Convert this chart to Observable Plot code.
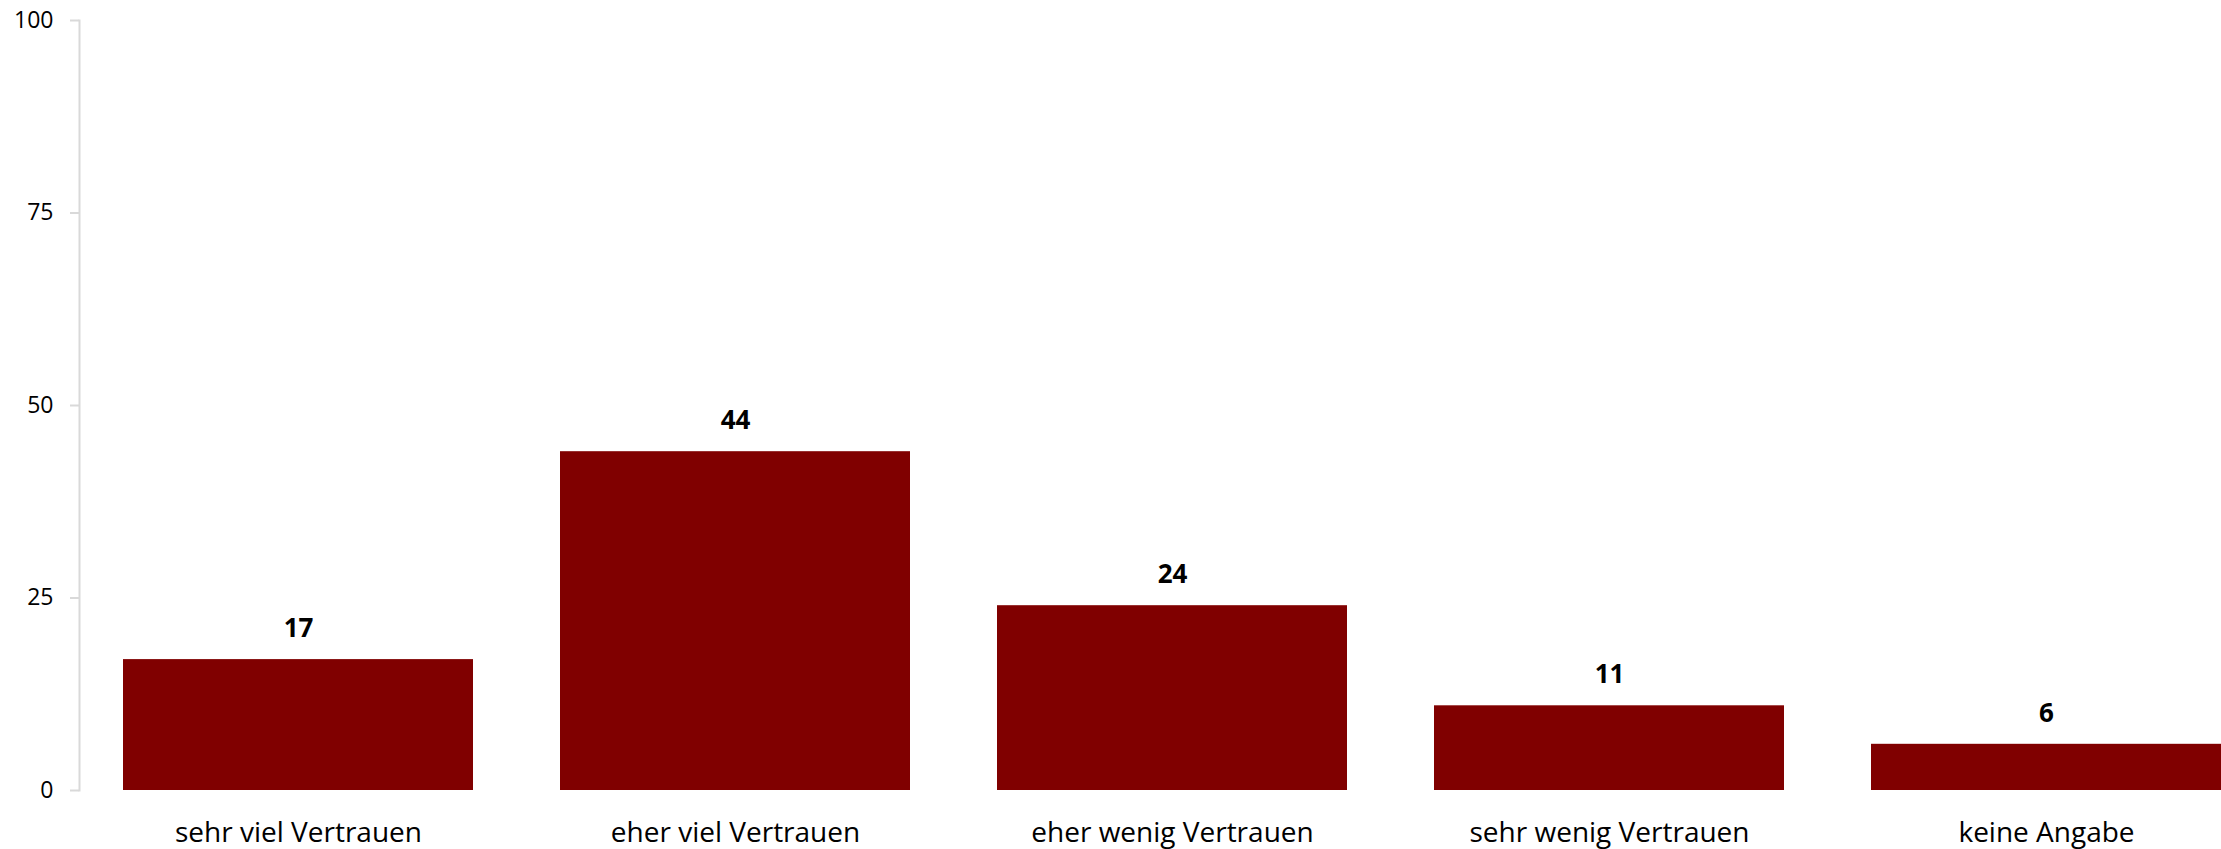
<!DOCTYPE html>
<html>
<head>
<meta charset="utf-8">
<script src="https://cdn.jsdelivr.net/npm/d3@7"></script>
<script src="https://cdn.jsdelivr.net/npm/@observablehq/plot@0.6"></script>
<style>
  html, body { margin: 0; padding: 0; background: #fff; overflow: hidden; }
  svg { display: block; }
</style>
</head>
<body>
<div id="chart"></div>
<script>
const categories = ["sehr viel Vertrauen", "eher viel Vertrauen", "eher wenig Vertrauen", "sehr wenig Vertrauen", "keine Angabe"];
const values = [17, 44, 24, 11, 6];
const yTicks = [0, 25, 50, 75, 100];

const data = categories.map((c, i) => ({category: c, value: values[i]}));

const chart = Plot.plot({
  width: 2221,
  height: 849,
  marginTop: 20,
  marginBottom: 59,
  marginLeft: 79,
  marginRight: 0,
  style: {fontFamily: "'Open Sans', sans-serif", background: "#fff", color: "#000"},
  x: {domain: categories, range: [78.25, 2265.75], paddingInner: 0.2, paddingOuter: 0.1, label: null},
  y: {domain: [0, 100], label: null},
  marks: [
    Plot.frame({anchor: "left", stroke: "#d9d9d9", strokeWidth: 2}),
    Plot.axisY({ticks: yTicks, tickSize: 9, tickPadding: 17, stroke: "#d9d9d9", strokeWidth: 2, fontSize: 23, fill: "#000", label: null}),
    Plot.axisX({tickSize: 0, tickPadding: 32, fontSize: 28, fill: "#000", label: null}),
    Plot.barY(data, {x: "category", y: "value", fill: "#800000"}),
    Plot.text(data, {x: "category", y: "value", text: d => String(d.value), dy: -31, fontSize: 26, fontWeight: "bold", fill: "#000"})
  ]
});
document.getElementById("chart").append(chart);
</script>
</body>
</html>
